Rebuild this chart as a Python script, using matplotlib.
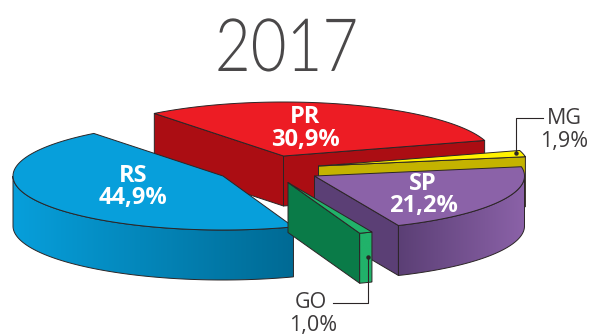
import numpy as np
import matplotlib
matplotlib.use("Agg")
import matplotlib.pyplot as plt
from matplotlib.colors import to_rgb
from matplotlib.patches import Polygon
from matplotlib.patheffects import AbstractPathEffect
from matplotlib.transforms import Affine2D

# ---- data ----
title = "2017"
categories = ["RS", "PR", "MG", "SP", "GO"]
shares = [44.9, 30.9, 1.9, 21.2, 1.0]
share_labels = ["44,9%", "30,9%", "1,9%", "21,2%", "1,0%"]

# ---- styling / layout ----
W, H = 589, 336
RX, RY, DEPTH = 210, 54, 50
START = 70.4
centres = {"RS": (223, 176), "PR": (283.5, 156), "MG": (318.5, 166), "SP": (314.5, 176), "GO": (288, 182.5)}
top_col = {"RS": "#079fdb", "PR": "#ed1c24", "MG": "#fff200", "SP": "#8b62a8", "GO": "#21b26a"}
edge_col = {"RS": "#006a94", "PR": "#ab0d13", "MG": "#c4b300", "SP": "#5b3f75", "GO": "#0a7b48"}
outer_col = {"RS": ("#079fdb", "#006a94"), "PR": ("#ab0d13", "#ab0d13"), "MG": ("#c4b300", "#c4b300"),
             "SP": ("#5b3f75", "#8b62a8"), "GO": ("#21b26a", "#21b26a")}
draw_order = ["PR", "MG", "SP", "RS", "GO"]
LINE = "#2b2526"
TEXT = "#3d3a3b"


class Condense(AbstractPathEffect):
    """Narrow a text horizontally about a screen x position."""

    def __init__(self, cx, factor):
        super().__init__()
        self.cx, self.factor = cx, factor

    def draw_path(self, renderer, gc, tpath, affine, rgbFace=None):
        squeeze = Affine2D().translate(-self.cx, 0).scale(self.factor, 1).translate(self.cx, 0)
        renderer.draw_path(gc, tpath, affine + squeeze, rgbFace)


fig = plt.figure(figsize=(W / 100, H / 100), dpi=100)
ax = fig.add_axes([0, 0, 1, 1])
ax.axis("off")

angles = {}
a = START
for c, s in zip(categories, shares):
    angles[c] = (a, a + s * 3.6)
    a += s * 3.6


def rim(c, th):
    cx, cy = centres[c]
    t = np.radians(th)
    return cx + RX * np.cos(t), cy + RY * np.sin(t)


def wall(p, q, col, z):
    poly = [p, q, (q[0], q[1] + DEPTH), (p[0], p[1] + DEPTH)]
    ax.fill(*zip(*poly), facecolor=col, edgecolor=LINE, linewidth=0.7, zorder=z, joinstyle="round")


for i, c in enumerate(draw_order):
    z = 10 + i * 5
    ts, te = angles[c]
    apex = centres[c]
    if np.cos(np.radians(ts)) < 0:
        wall(apex, rim(c, ts), edge_col[c], z)
    if np.cos(np.radians(te)) > 0:
        wall(apex, rim(c, te), edge_col[c], z)
    th = np.linspace(ts, te, 240)
    th = th[np.sin(np.radians(th)) >= 0]
    if len(th) > 1:
        x, y = rim(c, th)
        c0, c1 = np.array(to_rgb(outer_col[c][0])), np.array(to_rgb(outer_col[c][1]))
        outline = np.c_[np.r_[x, x[::-1]], np.r_[y, y[::-1] + DEPTH]]
        ramp = np.linspace(0, 1, 256)[None, :, None]
        grad = c0[None, None, :] + (c1 - c0)[None, None, :] * ramp
        im = ax.imshow(grad, extent=[x.min(), x.max(), y.max() + DEPTH, y.min()], aspect="auto",
                       zorder=z + 1, interpolation="bilinear")
        im.set_clip_path(Polygon(outline, closed=True, transform=ax.transData))
        ax.fill(outline[:, 0], outline[:, 1], facecolor="none", edgecolor=LINE, linewidth=0.7, zorder=z + 2)
    tt = np.linspace(ts, te, 240)
    xt, yt = rim(c, tt)
    ax.fill(np.r_[apex[0], xt], np.r_[apex[1], yt], facecolor=top_col[c], edgecolor=LINE,
            linewidth=0.7, zorder=z + 3, joinstyle="round")

ax.set_xlim(0, W)
ax.set_ylim(H, 0)

# title
ax.text(286.5, 71, title, family=["Lato", "DejaVu Sans"], weight=300, fontsize=53,
        color="#4a4849", ha="center", va="baseline", zorder=50,
        path_effects=[Condense(286.5, 0.84)])

# labels on the slices
on_slice = {"PR": (305, 117, 140), "SP": (423, 184, 206), "RS": (133, 176, 198)}
for c, (x, y1, y2) in on_slice.items():
    v = share_labels[categories.index(c)]
    for t, y in ((c, y1), (v, y2)):
        ax.text(x, y, t, family=["Open Sans", "DejaVu Sans"], weight="bold", fontsize=17, color="white",
                ha="center", va="center", zorder=60)

# outside labels with leaders
ax.plot([543, 515.7, 515.7], [118, 118, 153], color=LINE, lw=0.8, zorder=60)
ax.plot([515.7], [153], "o", ms=2.2, color=LINE, zorder=60)
ax.plot([333, 367.5, 367.5], [303, 303, 257], color=LINE, lw=0.8, zorder=60)
ax.plot([367.5], [257], "o", ms=2.2, color=LINE, zorder=60)
for t, x, y in (("MG", 564, 118), (share_labels[2], 564, 142), ("GO", 311, 302), (share_labels[4], 313, 326)):
    ax.text(x, y, t, family=["Open Sans", "DejaVu Sans"], fontsize=15.5, color=TEXT, ha="center", va="center", zorder=60)

fig.savefig("out.png", dpi=100)
